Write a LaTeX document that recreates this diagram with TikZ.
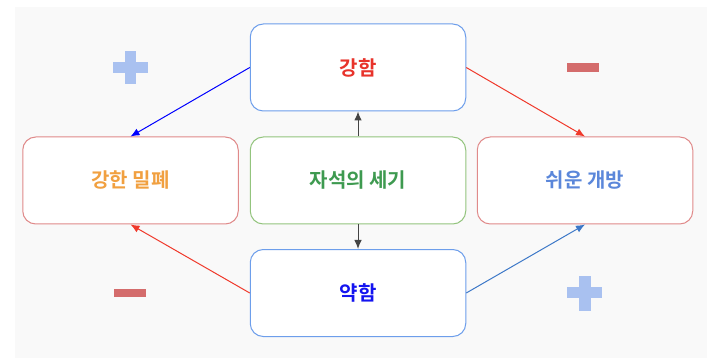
\documentclass[tikz,border=0pt]{standalone}
\usepackage{fontspec}
\newfontfamily\kr{Noto Sans CJK KR Bold}
\usetikzlibrary{arrows.meta}
\definecolor{bgc}{HTML}{F9F9F9}
\definecolor{bluebd}{HTML}{6D9EEB}
\definecolor{redbd}{HTML}{E08A8A}
\definecolor{greenbd}{HTML}{93C47D}
\definecolor{tred}{HTML}{E8332B}
\definecolor{torange}{HTML}{F1A040}
\definecolor{tgreen}{HTML}{3E9A50}
\definecolor{tblue}{HTML}{5B87DA}
\definecolor{tdeep}{HTML}{1414F0}
\definecolor{apure}{HTML}{0000FF}
\definecolor{ared}{HTML}{F0392B}
\definecolor{asteel}{HTML}{3D78C8}
\definecolor{agray}{HTML}{444444}
\definecolor{plusc}{HTML}{A9C1F0}
\definecolor{minusc}{HTML}{D46C6C}
\tikzset{
  box/.style={draw, fill=white, rounded corners=13pt, line width=1pt,
    minimum width=215.5pt, minimum height=87pt, inner sep=0pt, font=\kr\fontsize{20}{24}\selectfont},
  conn/.style={line width=1pt, -{Latex[length=9pt,width=7.5pt]}},
}
\begin{document}
\begin{tikzpicture}[x=1pt,y=-1pt]
\useasboundingbox (0,0) rectangle (722,363);
\fill[bgc] (15,7) rectangle (707,358);
\node[box, draw=bluebd, text=tred] (strong) at (358,67.5) {강함};
\node[box, draw=redbd, text=torange] (seal) at (130.5,180.5) {강한 밀폐};
\node[box, draw=greenbd, text=tgreen] (mag) at (358,180.5) {자석의 세기};
\node[box, draw=redbd, text=tblue] (open) at (585,180.5) {쉬운 개방};
\node[box, draw=bluebd, text=tdeep] (weak) at (358,293) {약함};
\draw[conn, apure] (strong.west) -- (seal.north);
\draw[conn, ared] (strong.east) -- (open.north);
\draw[conn, ared] (weak.west) -- (seal.south);
\draw[conn, asteel] (weak.east) -- (open.south);
\draw[conn, agray] (mag.north) -- (strong.south);
\draw[conn, agray] (mag.south) -- (weak.north);
% plus / minus marks
\fill[plusc] (113,62) rectangle (148,73);
\fill[plusc] (125,50.7) rectangle (136,84);
\fill[plusc] (567.3,287.3) rectangle (602.3,298.3);
\fill[plusc] (579.3,275.7) rectangle (590.7,310.7);
\fill[minusc] (567,63.3) rectangle (599,71.7);
\fill[minusc] (114.3,289) rectangle (146,297.3);
\end{tikzpicture}
\end{document}
